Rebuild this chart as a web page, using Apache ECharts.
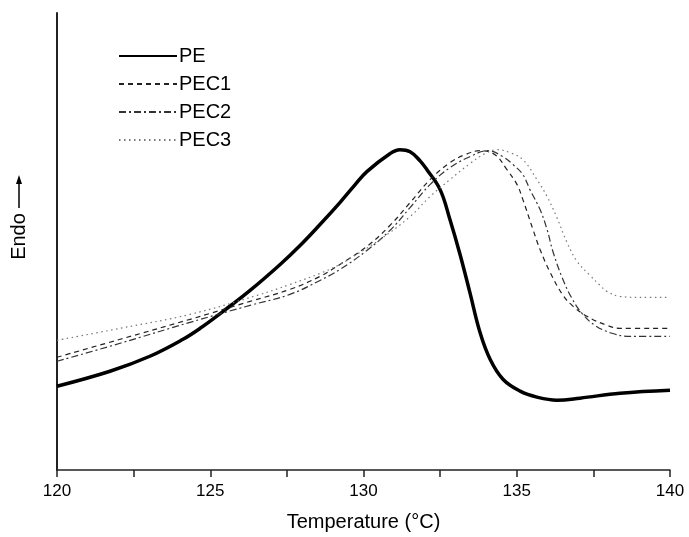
<!DOCTYPE html>
<html>
<head>
<meta charset="utf-8">
<script src="https://cdn.jsdelivr.net/npm/echarts@6/dist/echarts.min.js"></script>
<style>html,body{margin:0;padding:0;background:#fff}#c{width:689px;height:537px}</style>
</head>
<body>
<div id="c"></div>
<script>
const seriesNames = ['PE', 'PEC1', 'PEC2', 'PEC3'];
const xTicks = [120, 125, 130, 135, 140];

const peT = [120.00,121.73,123.03,124.11,124.67,125.42,126.30,127.28,127.93,128.58,129.23,129.70,130.11,130.86,131.19,131.52,131.84,132.07,132.50,132.82,133.15,133.47,133.80,134.13,134.55,135.11,135.66,136.31,137.06,138.37,140.00];
const peV = [84,99,114,131,142,159,180,206,225,246,268,285,299,317,321,319,310,301,281,251,216,178,138,111,91,79,73,70,72,77,80];

const pec1T = [120.00,122.06,124.34,126.30,127.60,128.58,129.23,130.11,130.86,131.52,132.17,132.82,133.31,133.80,134.29,134.68,135.01,135.20,135.53,135.76,136.09,136.51,136.84,137.29,137.94,138.37,140.00];
const pec1V = [113,131,151,169,181,194,206,224,245,268,291,308,316,320,316,301,286,271,241,221,198,175,164,154,145,142,142];

const pec2T = [120.00,122.06,124.34,126.30,127.60,128.58,129.23,130.11,130.86,131.52,132.17,132.82,133.47,134.06,134.55,134.88,135.20,135.43,135.76,135.99,136.18,136.48,136.80,137.13,137.55,138.11,138.70,140.00];
const pec2V = [109,127,148,165,176,190,201,220,240,263,286,303,314,320,314,306,296,281,261,241,219,193,172,157,145,137,134,134];

const pec3T = [120.00,122.06,124.34,126.53,127.60,128.58,129.23,129.56,130.54,131.52,132.17,132.82,133.47,133.96,134.36,134.78,135.20,135.66,135.99,136.31,136.64,136.97,137.39,137.72,137.94,138.37,139.02,140.00];
const pec3V = [130,142,156,175,186,197,206,212,231,254,274,291,307,317,321,318,311,291,274,253,228,209,195,185,179,174,173,173];

function pairs(t, v) { return t.map((x, i) => [x, v[i]]); }

const chart = echarts.init(document.getElementById('c'), null, {renderer: 'canvas'});
const font = '"Liberation Sans", Arial, sans-serif';
chart.setOption({
  animation: false,
  backgroundColor: '#fff',
  grid: {left: 57, right: 19, top: 13, bottom: 66},
  legend: {
    orient: 'vertical', left: 113, top: 41,
    itemWidth: 58, itemHeight: 14, itemGap: 8,
    itemStyle: {opacity: 0},
    textStyle: {fontFamily: font, fontSize: 20, color: '#000', padding: [0, 0, 0, -3]},
    data: seriesNames
  },
  xAxis: {
    type: 'value', min: 120, max: 140, interval: 2.5,
    name: 'Temperature (°C)', nameLocation: 'middle', nameGap: 42,
    nameTextStyle: {fontFamily: font, fontSize: 20, color: '#000'},
    axisLine: {lineStyle: {color: '#222', width: 1.5}},
    axisTick: {show: true, inside: false, length: 7, lineStyle: {color: '#222', width: 1.5}},
    axisLabel: {
      margin: 13, fontFamily: font, fontSize: 17, color: '#000',
      formatter: v => (xTicks.indexOf(v) >= 0 ? String(v) : '')
    },
    splitLine: {show: false}
  },
  yAxis: {
    type: 'value', min: 0, max: 458,
    name: 'Endo', nameLocation: 'middle', nameGap: 28, nameRotate: 90,
    nameTextStyle: {fontFamily: font, fontSize: 20, color: '#000', padding: [0, 0, 0, 10]},
    axisLine: {show: true, lineStyle: {color: '#222', width: 2}},
    axisTick: {show: false},
    axisLabel: {show: false},
    splitLine: {show: false}
  },
  graphic: [
    {type: 'line', shape: {x1: 19, y1: 208, x2: 19, y2: 182}, style: {stroke: '#000', lineWidth: 1.5}},
    {type: 'polygon', shape: {points: [[19, 175], [16, 184], [22, 184]]}, style: {fill: '#000'}}
  ],
  series: [
    {name: 'PE', type: 'line', symbol: 'none', smooth: 0.4,
     data: pairs(peT, peV), lineStyle: {color: '#000', width: 3.5}, itemStyle: {color: '#000'}},
    {name: 'PEC1', type: 'line', symbol: 'none', smooth: 0.4,
     data: pairs(pec1T, pec1V), lineStyle: {color: '#222', width: 1.2, type: [5, 4]}, itemStyle: {color: '#222'}},
    {name: 'PEC2', type: 'line', symbol: 'none', smooth: 0.4,
     data: pairs(pec2T, pec2V), lineStyle: {color: '#333', width: 1.2, type: [7, 3, 2, 3]}, itemStyle: {color: '#333'}},
    {name: 'PEC3', type: 'line', symbol: 'none', smooth: 0.4,
     data: pairs(pec3T, pec3V), lineStyle: {color: '#777', width: 1.2, type: [1.5, 3.5]}, itemStyle: {color: '#777'}}
  ]
});
</script>
</body>
</html>
